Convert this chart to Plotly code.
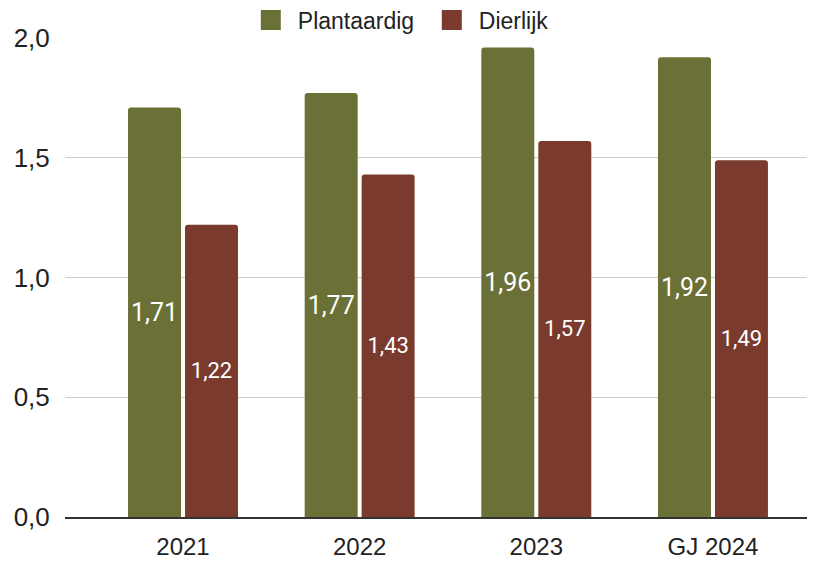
import plotly.graph_objects as go

categories = ["2021", "2022", "2023", "GJ 2024"]
plantaardig = [1.71, 1.77, 1.96, 1.92]
dierlijk = [1.22, 1.43, 1.57, 1.49]
y_ticks = [0.0, 0.5, 1.0, 1.5, 2.0]

GREEN = "#6a7036"
RED = "#7a3b2e"

fig = go.Figure()
fig.add_trace(go.Bar(
    x=categories, y=plantaardig, name="Plantaardig", showlegend=False,
    marker=dict(color=GREEN, cornerradius=3, line=dict(width=0)),
    texttemplate="%{y:.2f}", textposition="inside", insidetextanchor="middle",
    textangle=0, insidetextfont=dict(family="Roboto", size=26, color="white"),
    hoverinfo="skip",
))
fig.add_trace(go.Bar(
    x=categories, y=dierlijk, name="Dierlijk", showlegend=False,
    marker=dict(color=RED, cornerradius=3, line=dict(width=0)),
    texttemplate="%{y:.2f}", textposition="inside", insidetextanchor="middle",
    textangle=0, insidetextfont=dict(family="Roboto", size=22, color="white"),
    hoverinfo="skip",
))
# legend entries
for nm, col in [("Plantaardig", GREEN), ("Dierlijk", RED)]:
    fig.add_trace(go.Scatter(
        x=[None], y=[None], mode="markers", name=nm,
        marker=dict(symbol="square", size=16, color=col, line=dict(color=col, width=4)),
    ))

fig.update_layout(
    width=815, height=561,
    margin=dict(l=57, r=15, t=30, b=52, autoexpand=False),
    paper_bgcolor="white", plot_bgcolor="white",
    separators=",.",
    barmode="group", bargap=0.355, bargroupgap=0.07,
    font=dict(family="Liberation Sans, Arial, sans-serif", size=22, color="#222"),
    legend=dict(orientation="h", xref="container", yref="container",
                x=0.5114, xanchor="center", y=0.9786, yanchor="middle",
                font=dict(size=23, color="#222"), itemwidth=44, tracegroupgap=0,
                entrywidth=122, entrywidthmode="pixels",
                bgcolor="rgba(0,0,0,0)"),
    xaxis=dict(type="category", range=[-0.668, 3.538], showgrid=False,
               showline=True, linecolor="#333", linewidth=2, automargin=False,
               ticks="outside", ticklen=7, tickcolor="rgba(0,0,0,0)",
               tickfont=dict(size=24, color="#222"), fixedrange=True),
    yaxis=dict(range=[0, 2.0], tickvals=y_ticks, tickformat=".1f", automargin=False,
               showgrid=True, gridcolor="#cccccc", gridwidth=1, zeroline=False,
               ticks="outside", ticklen=9, tickcolor="rgba(0,0,0,0)",
               tickfont=dict(size=26, color="#222"), fixedrange=True),
)

fig.write_html("out.html")
